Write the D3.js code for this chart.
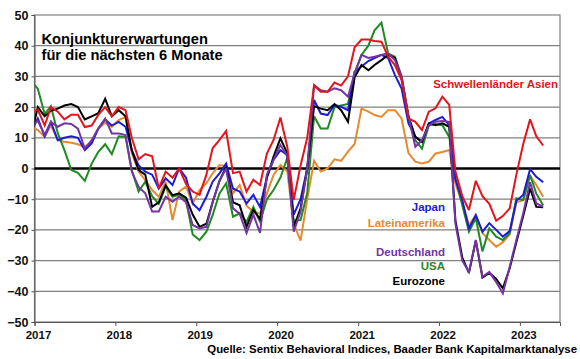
<!DOCTYPE html>
<html><head><meta charset="utf-8">
<script src="https://cdn.jsdelivr.net/npm/d3@7"></script>
<style>
html,body{margin:0;padding:0;background:#fff;}
svg{display:block;font-family:"Liberation Sans",Arial,sans-serif;font-weight:bold;}
</style></head>
<body><svg id="c" width="580" height="359"></svg>
<script>
// Monthly values, Dec 2016 .. Apr 2023 (first value only sets the line start at the axis)
const asia = [18.4,
  19.2,14,20,18.5,16,17.5,17.5,13.5,14,17.5,20,17,
  20,19,10,3,4.7,4,-6.5,-1,-3,0,-5,-7.5,
  -8.6,-2,6.6,9.3,12.2,-1.5,-1,-7.5,-3.7,-5.4,4.9,9.3,
  16.6,7.1,-10.3,1,10,27,25,25,28,27,30,39.5,
  42,42,41.5,41.3,36.4,33.7,28.8,16.3,15.2,12.5,18.5,19.6,
  23.4,20.7,-1,-9,-13.5,-4,-9,-11.5,-17,-15.5,-13,-2,
  8,16,10.5,7.5];
const eurozone = [10.4,
  20,17,18.8,19.5,20.5,21,20,16,17,18,22.7,17,
  19,17,6,-0.5,-2,-12.5,-11,-5.5,-8.7,-8.1,-9.5,-15,
  -19,-18,-11,-4,0.5,-11,-12,-19,-13.5,-16.5,-3,3.9,
  9.8,4.9,-19,-13,0,20.3,19.5,19,21,19,15.2,29.7,
  33.7,32,33.7,35.3,37,36,29.3,17,10.3,8.7,14.7,14.1,
  14.7,13.6,-17,-29,-34,-23.5,-35.5,-34,-36,-39,-32.5,-24,
  -15.5,-6.5,-12.5,-12.6];
const deutschland = [13.9,
  15.5,10.9,15.2,13.6,14.7,14.5,13,6.5,9.2,13,16.3,11.4,
  11.4,10.9,-1,-6,-8.1,-14,-14,-9.2,-10.8,-9.2,-11,-18.4,
  -19.5,-19,-11,-4,0,-13,-14.7,-21,-15,-21,-2,2.8,
  7.7,3.9,-20.6,-14,0,27.2,25.5,25,26.1,25.5,23.4,31,
  37,36,36.4,37,37.5,35.3,30,17,7.1,9.2,14.1,15.2,
  15.5,15.2,-18,-30,-33.7,-23.3,-35.3,-33.7,-37,-40.7,-32,-23.3,
  -14.6,-4.5,-11.4,-12.4];
const japan = [12,
  16.3,10.5,15.2,9.2,10,10.5,10,6,8.2,13,16,14,
  15.2,13.6,6,1,-1,-2,-6.5,-3.2,-5.4,0,-3,-11.4,
  -13.6,-9.2,-4.3,-1.6,1.6,-6.5,-7.5,-11.4,-8.6,-12.5,-2.7,2.8,
  6,4.4,-15,-10,0,22.3,17.9,17.4,20.7,20.1,19,31.5,
  33.2,35,36,37,36,30.4,26,14.7,10.3,8.7,14.7,15.8,
  16.8,14.1,-3.7,-10.3,-19.5,-15.2,-20.6,-17.8,-20,-22.2,-20.4,-10.5,
  -8.6,-0.2,-2.7,-4.5];
const usa = [28.4,
  26,17.7,20.3,11.5,6,-0.5,-1.4,-4,1.6,5.4,7.9,4.7,
  10.5,10.3,-0.5,-7.5,-4.3,-9,-11.5,-5.9,-9.2,-8.5,-10.3,-21.5,
  -23.3,-20.6,-15.2,-8.1,-4.8,-15.7,-14.6,-17.4,-12.5,-17.3,-10,-7,
  -3,3.5,-17,-16.8,-8,17,13,13,20,20.5,21,31,
  37,40,45,47.5,37.5,36.4,30,17,9.2,6.5,14.1,14.5,
  14.1,10.3,-3,-12,-20.6,-16.2,-27,-19.5,-22.2,-23.3,-21.1,-9.7,
  -10.3,-2.1,-8.2,-12];
const lateinamerika = [13.5,
  12.5,10.3,14.1,9.2,8.7,8.4,7.9,7,8.7,13,14.9,13.6,
  15.8,16.8,5,-1,-3.8,-7,-9.2,-4.3,-16.8,-7.5,-5.9,-11.4,
  -7,-4.8,-1.6,1.1,0.8,-8.1,-5.4,-12,-14.2,-14.7,-8.1,-2.1,
  1.1,-1,-18,-23.5,-10,2.5,-1,0,3,2.5,5.5,8,
  19.5,18.5,17.4,16.8,19,19,16.3,5,2.2,1.6,2.2,4.9,
  5.4,6,-5,-11.4,-18.4,-15.2,-21,-23.3,-25.5,-24,-21.5,-11,
  -10.3,-2.4,-5.4,-9.2];

const yTicks = [-50,-40,-30,-20,-10,0,10,20,30,40,50];
const titleLines = ["Konjunkturerwartungen", "für die nächsten 6 Monate"];
const source = "Quelle: Sentix Behavioral Indices, Baader Bank Kapitalmarktanalyse";

const series = [
  {name:"Lateinamerika", values:lateinamerika, color:"#e8892e", lx:445, ly:226.5},
  {name:"USA", values:usa, color:"#1f8a1f", lx:445, ly:270},
  {name:"Japan", values:japan, color:"#1c1cd8", lx:445, ly:210.5},
  {name:"Eurozone", values:eurozone, color:"#000000", lx:445, ly:285},
  {name:"Deutschland", values:deutschland, color:"#7434a4", lx:445, ly:256},
  {name:"Schwellenländer Asien", values:asia, color:"#e3141b", lx:558, ly:88}
];

const months = d3.timeMonths(new Date(2016,11,1), new Date(2023,4,1));
const L = 34.5, R = 560, T = 15, B = 322;
const x = d3.scaleTime().domain([new Date(2017,0,1), new Date(2023,6,1)]).range([L,R]);
const y = d3.scaleLinear().domain([-50,50]).range([B,T]);
const svg = d3.select("#c");

// grid
svg.append("g").selectAll("line").data(yTicks.filter(v=>v!==0 && v!==50 && v!==-50)).join("line")
  .attr("x1",L).attr("x2",R).attr("y1",d=>y(d)).attr("y2",d=>y(d))
  .attr("stroke","#808080").attr("stroke-width",1.2);
svg.append("rect").attr("x",L).attr("y",T).attr("width",R-L).attr("height",B-T)
  .attr("fill","none").attr("stroke","#808080").attr("stroke-width",1.2);

// title (behind lines)
svg.append("g").selectAll("text").data(titleLines).join("text")
  .attr("x",41.5).attr("y",(d,i)=>43.5+i*16).attr("font-size",14.7).attr("fill","#000").text(d=>d);

// axes
const yAxis = svg.append("g").attr("transform",`translate(${L},0)`)
  .call(d3.axisLeft(y).tickValues(yTicks).tickSize(3).tickPadding(3).tickFormat(d3.format("d")));
yAxis.select(".domain").attr("stroke","#555");
yAxis.selectAll(".tick line").attr("stroke","#555");
yAxis.selectAll("text").attr("font-size",12.5).attr("font-family","'Liberation Sans',Arial,sans-serif").attr("font-weight","bold").attr("fill","#111");

const xAxis = svg.append("g").attr("transform",`translate(0,${B})`)
  .call(d3.axisBottom(x).ticks(d3.timeYear.every(1)).tickSize(4).tickPadding(4).tickFormat(d3.timeFormat("%Y")));
xAxis.select(".domain").attr("stroke","#555");
xAxis.selectAll(".tick line").attr("stroke","#555");
xAxis.selectAll("text").attr("font-size",11.5).attr("dx",3.5).attr("dy","0.75em")
  .attr("font-family","'Liberation Sans',Arial,sans-serif").attr("font-weight","bold").attr("fill","#111");

// zero line
svg.append("line").attr("x1",L).attr("x2",R).attr("y1",y(0)).attr("y2",y(0))
  .attr("stroke","#000").attr("stroke-width",2.6);

// lines
svg.append("clipPath").attr("id","clip").append("rect")
  .attr("x",L).attr("y",T-5).attr("width",R-L).attr("height",B-T+10);
const line = d3.line().x((d,i)=>x(d3.timeDay.offset(months[i],15))).y(d=>y(d));
svg.append("g").attr("clip-path","url(#clip)").selectAll("path").data(series).join("path")
  .attr("d",d=>line(d.values)).attr("fill","none").attr("stroke",d=>d.color)
  .attr("stroke-width",2).attr("stroke-linejoin","miter").attr("stroke-miterlimit",3);

// labels
svg.append("g").selectAll("text").data(series).join("text")
  .attr("x",d=>d.lx).attr("y",d=>d.ly).attr("text-anchor","end").attr("font-size",11.5)
  .attr("fill",d=>d.color).text(d=>d.name);

svg.append("text").attr("x",577).attr("y",352.5).attr("text-anchor","end").attr("font-size",11.4)
  .attr("fill","#000").text(source);
</script></body></html>
